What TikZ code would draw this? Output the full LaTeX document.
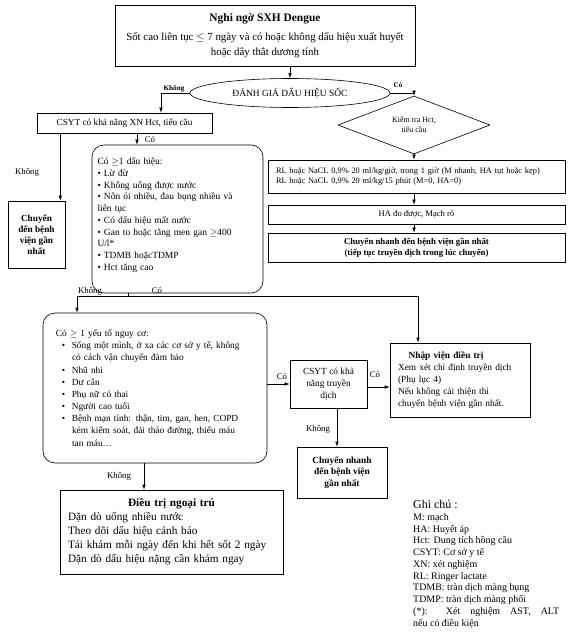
\documentclass[tikz,border=0pt]{standalone}
\usepackage{fontspec}
\setmainfont{Liberation Serif}
\usepackage{amssymb}
\usetikzlibrary{arrows.meta}
\usetikzlibrary{shapes.geometric, calc}

\tikzset{
  box/.style={draw, line width=0.6bp, inner sep=0pt, align=center},
  rbox/.style={box, rounded corners=12bp},
  arr/.style={-{Latex[length=5bp,width=3.5bp]}, line width=0.6bp},
  lab/.style={inner sep=1bp, font=\fontsize{8.8}{10}\selectfont},
  blab/.style={inner sep=1bp, font=\bfseries\fontsize{7.2}{9}\selectfont},
}

\begin{document}
\begin{tikzpicture}[x=1bp, y=-1bp]
                \useasboundingbox (0,0) rectangle (572,637);
                % Top
                \node[box, minimum width=300bp, minimum height=61bp, font=\fontsize{10.9}{15}\selectfont] (nghingo) at (265,35.5)
                    {{\bfseries\fontsize{11.5}{15}\selectfont Nghi ngờ SXH Dengue}\\[4bp]
                     Sốt cao liên tục $\leq$ 7 ngày và có hoặc không dấu hiệu xuất huyết\\
                     hoặc dây thắt dương tính};
                \node[ellipse, draw, line width=0.6bp, minimum width=200bp, minimum height=29bp, inner sep=0pt, font=\fontsize{9.5}{11}\selectfont] (danhgia) at (290,93) {ĐÁNH GIÁ DẤU HIỆU SỐC};
                \draw[arr] (nghingo.south -| danhgia.north) -- (danhgia.north);
                % Left branch
                \node[box, minimum width=175bp, minimum height=20bp, font=\fontsize{9.3}{11}\selectfont] (csyt) at (124.5,123) {CSYT có khả năng XN Hct, tiểu cầu};
                \draw[arr] (danhgia.west) -| ([xshift=36.5bp]csyt.north);
                \node[blab] (khong1) at (174,89) {Không};
                \node[box, minimum width=57bp, minimum height=67bp, font=\bfseries\fontsize{9.3}{11}\selectfont] (chuyen1) at (36.5,234.5) {Chuyển\\ đến bệnh\\ viện gần\\ nhất};
                \draw[arr] ([xshift=-5bp]chuyen1.north east |- csyt.south) -- ([xshift=-5bp]chuyen1.north east);
                \node[lab] (khong2) at (27,172) {Không};
                \node[rbox, minimum width=171bp, minimum height=148bp, text width=160bp, inner xsep=5.5bp, align=left, font=\fontsize{9.5}{11.8}\selectfont] (dauhieu) at (177.5,219)
                    {Có $\geq$1 dấu hiệu:\\
                     \textbullet\ Lừ đừ\\
                     \textbullet\ Không uống được nước\\
                     \textbullet\ Nôn ói nhiều, đau bụng nhiều và\\
                     liên tục\\
                     \textbullet\ Có dấu hiệu mất nước\\
                     \textbullet\ Gan to hoặc tăng men gan $\geq$400\\
                     U/l*\\
                     \textbullet\ TDMB hoặcTDMP\\
                     \textbullet\ Hct tăng cao\rule[-10bp]{0pt}{0pt}};
                \draw[arr] ([xshift=12.5bp]csyt.south) -- ([xshift=12.5bp]csyt.south |- dauhieu.north);
                \node[lab] (co1) at (150,139) {Có};
                % Right branch
                \node[diamond, draw, line width=0.6bp, shape aspect=2.6, minimum width=152bp, minimum height=58bp, inner sep=0pt, align=center, font=\fontsize{8}{10}\selectfont] (kiemtra) at (414,125) {Kiểm tra Hct,\\ tiểu cầu};
                \draw[arr] (danhgia.east) -| (kiemtra.north);
                \node[blab] (co2) at (398,85) {Có};
                \node[box, minimum width=297bp, minimum height=33bp, text width=281bp, inner xsep=8bp, align=left, font=\fontsize{8.4}{11}\selectfont] (rl) at (416.5,176.5)
                    {RL hoặc NaCL 0,9\% 20 ml/kg/giờ, trong 1 giờ (M nhanh, HA tụt hoặc kẹp)\\
                     RL hoặc NaCL 0,9\% 20 ml/kg/15 phút (M=0, HA=0)};
                \node[box, minimum width=297bp, minimum height=19bp, font=\fontsize{8.6}{10}\selectfont] (hado) at (416.5,214.5) {HA đo được, Mạch rõ};
                \node[box, minimum width=297bp, minimum height=29bp, font=\bfseries\fontsize{8.8}{11}\selectfont] (chuyen2) at (416.5,247.5)
                    {Chuyển nhanh đến bệnh viện gần nhất\\ (tiếp tục truyền dịch trong lúc chuyển)};
                \draw[arr] (kiemtra.south) -- (kiemtra.south |- rl.north);
                \draw[arr] (kiemtra.south |- rl.south) -- (kiemtra.south |- hado.north);
                \draw[arr] (kiemtra.south |- hado.south) -- (kiemtra.south |- chuyen2.north);
                % Risk factors
                \node[rbox, minimum width=224bp, minimum height=150bp, text width=198bp, inner xsep=13bp, align=left, font=\fontsize{9.4}{12.2}\selectfont] (nguyco) at (155,388)
                    {Có $\geq$ 1 yếu tố nguy cơ:\\
                     \hspace{6bp}\textbullet\hspace{6.5bp}Sống một mình, ở xa các cơ sở y tế, không\\
                     \hspace{16bp}có cách vận chuyển đảm bảo\\
                     \hspace{6bp}\textbullet\hspace{6.5bp}Nhũ nhi\\
                     \hspace{6bp}\textbullet\hspace{6.5bp}Dư cân\\
                     \hspace{6bp}\textbullet\hspace{6.5bp}Phụ nữ có thai\\
                     \hspace{6bp}\textbullet\hspace{6.5bp}Người cao tuổi\\
                     \hspace{6bp}\textbullet\hspace{6.5bp}Bệnh mạn tính: thận, tim, gan, hen, COPD\\
                     \hspace{16bp}kém kiểm soát, đái tháo đường, thiếu máu\\
                     \hspace{16bp}tan máu…};
                \coordinate (nga) at (128,296);
                \draw (dauhieu.south -| nga) -- (nga);
                \draw[arr] (nga) -| ([xshift=-78bp]nguyco.north);
                \node[lab] (khong3) at (90,291) {Không};
                \node[lab] (co3) at (157,290) {Có};
                \node[box, minimum width=140bp, minimum height=74bp, text width=124bp, inner xsep=8bp, align=left, font=\fontsize{9.4}{12}\selectfont] (nhapvien) at (460,380)
                    {\makebox[96bp][c]{\bfseries Nhập viện điều trị}\\
                     Xem xét chỉ định truyền dịch\\
                     (Phụ lục 4)\\
                     Nếu không cải thiện thì\\
                     chuyển bệnh viện gần nhất.};
                \draw[arr] (nga) -| ([xshift=-42bp]nhapvien.north);
                \node[box, minimum width=77bp, minimum height=48bp, font=\fontsize{9.4}{11.7}\selectfont] (csyt2) at (328.5,384) {CSYT có khả\\ năng truyền\\ dịch};
                \draw[arr] (nguyco.east |- csyt2.west) -- (csyt2.west);
                \node[lab] (co4) at (282,376) {Có};
                \draw[arr] ([yshift=-3bp]csyt2.east) -- ([yshift=-3bp]csyt2.east -| nhapvien.west);
                \node[lab] (co5) at (375,374) {Có};
                \node[box, minimum width=90bp, minimum height=51bp, font=\bfseries\fontsize{9.4}{11.5}\selectfont] (chuyen3) at (342,472.5) {Chuyển nhanh\\ đến bệnh viện\\ gần nhất};
                \draw[arr] ([xshift=8.5bp]csyt2.south) -- ([xshift=8.5bp]csyt2.south |- chuyen3.north);
                \node[lab] (khong4) at (318,429) {Không};
                % Outpatient
                \node[box, minimum width=223bp, minimum height=84bp, text width=207bp, inner xsep=8bp, align=left, font=\fontsize{11.3}{14}\selectfont] (dieutri) at (171.5,532)
                    {\makebox[207bp][c]{\bfseries Điều trị ngoại trú}\\
                     Dặn dò uống nhiều nước\\
                     Theo dõi dấu hiệu cảnh báo\\
                     Tái khám mỗi ngày đến khi hết sốt 2 ngày\\
                     Dặn dò dấu hiệu nặng cần khám ngay};
                \draw[arr] ([xshift=-11bp]nguyco.south) -- ([xshift=-11bp]nguyco.south |- dieutri.north);
                \node[lab] (khong5) at (119,476) {Không};
                % Legend
                \node[anchor=north west, inner sep=0pt, align=left, font=\fontsize{10}{11.8}\selectfont] (ghichu) at (413,500)
                    {{\fontsize{12}{12}\selectfont Ghi chú :}\\
                     M: mạch\\
                     HA: Huyết áp\\
                     Hct: Dung tích hồng cầu\\
                     CSYT: Cơ sở y tế\\
                     XN: xét nghiệm\\
                     RL: Ringer lactate\\
                     TDMB: tràn dịch màng bụng\\
                     TDMP: tràn dịch màng phổi\\
                     \makebox[146bp][s]{(*): Xét nghiệm AST, ALT}\\
                     nếu có điều kiện};
            \end{tikzpicture}
\end{document}
